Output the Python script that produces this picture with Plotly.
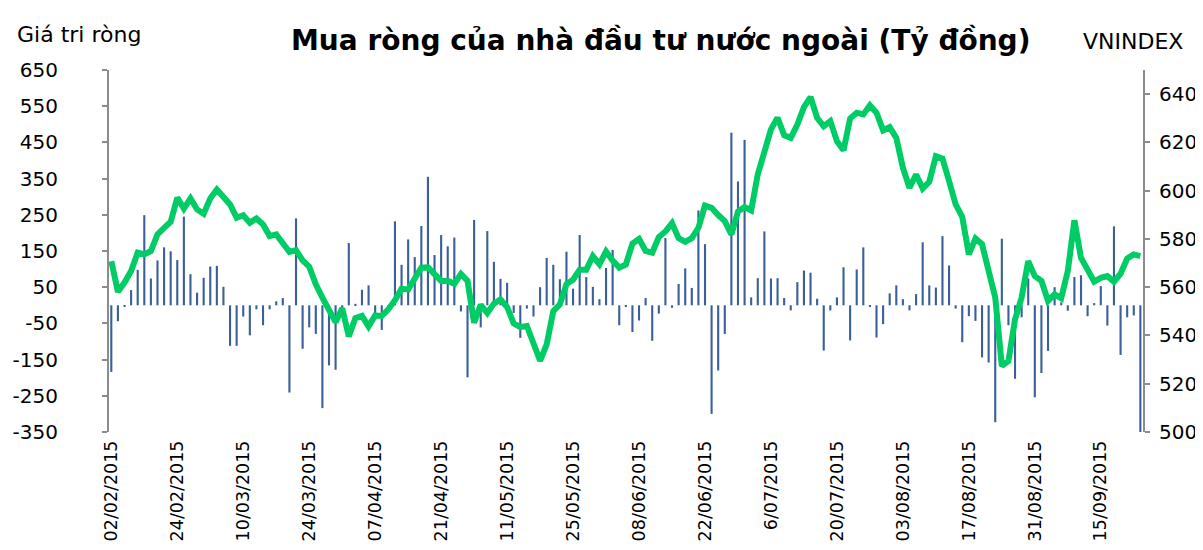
import pandas as pd
import plotly.graph_objects as go

# Net foreign buying (billion VND), one value per trading day
net_buy = [-184, -44, -4, 42, 98, 249, 74, 124, 160, 149,
           125, 245, 86, 35, 76, 107, 109, 51, -112, -112,
           -31, -83, -11, -55, -11, 11, 20, -241, 240, -120,
           -61, -79, -284, -166, -178, -20, 172, 4, 43, 55,
           -40, -68, -15, 232, 112, 182, 133, 219, 355, 139,
           194, 163, 187, -17, -199, 236, -61, 205, 120, 73,
           62, -21, -90, -9, -31, 50, 131, 112, 72, 148,
           46, 194, 78, 51, 17, 103, 153, -55, -2, -74,
           -42, 20, -98, -23, 186, -7, 59, 102, 48, 262,
           169, -300, -180, -79, 477, 342, 457, 22, 75, 204,
           74, 75, 20, -14, 64, 96, 90, 18, -125, -14,
           22, 105, -97, 99, 160, -3, -89, -52, 33, 55,
           17, -14, 31, 174, 55, 49, 191, 110, -9, -102,
           -30, -43, -144, -158, -323, 184, -55, -203, -33, 74,
           -254, -187, -126, 50, 8, -15, 78, 83, -30, 6,
           53, -56, 218, -137, -33, -28, -353]

# VNINDEX close
vnindex = [570.8, 558.1, 561.9, 566.7, 574.3, 573.6, 575.0, 581.9, 584.6, 587.1,
           597.1, 592.6, 596.8, 592.2, 590.4, 596.8, 600.5, 597.8, 594.3, 588.8,
           589.8, 586.7, 588.5, 586.0, 581.2, 581.9, 578.4, 574.6, 575.3, 571.1,
           568.5, 561.2, 555.7, 550.8, 545.5, 551.3, 539.6, 547.2, 548.1, 543.7,
           548.3, 548.1, 550.8, 554.6, 559.4, 559.0, 563.9, 568.1, 568.2, 565.0,
           562.6, 562.7, 561.4, 565.5, 562.6, 545.3, 552.7, 549.3, 553.2, 554.9,
           551.8, 545.0, 543.5, 543.9, 537.3, 529.5, 536.3, 550.1, 552.9, 561.3,
           563.1, 567.2, 567.2, 572.9, 569.5, 574.8, 571.0, 568.1, 569.4, 578.1,
           580.0, 575.0, 574.3, 580.8, 583.1, 586.5, 580.3, 578.8, 580.3, 584.6,
           593.8, 592.9, 589.9, 587.4, 581.9, 591.3, 593.2, 591.8, 606.7, 616.7,
           625.4, 630.2, 623.0, 621.9, 627.4, 634.6, 638.8, 630.2, 626.7, 628.8,
           620.5, 616.7, 629.9, 632.3, 631.6, 635.4, 632.3, 625.0, 626.3, 621.9,
           609.5, 601.2, 606.7, 600.9, 603.7, 614.3, 613.3, 604.0, 594.3, 589.1,
           573.6, 580.2, 577.8, 566.7, 555.7, 527.4, 529.4, 546.7, 555.7, 570.8,
           564.6, 562.6, 554.3, 557.1, 555.4, 566.7, 587.7, 572.2, 566.7, 562.3,
           563.9, 564.6, 562.3, 565.6, 571.9, 573.6, 572.9]

# Market holidays (Tet, Hung Kings / Reunion Day, National Day)
holidays = ["2015-02-16", "2015-02-17", "2015-02-18", "2015-02-19", "2015-02-20",
            "2015-02-23", "2015-04-28", "2015-04-29", "2015-04-30", "2015-05-01",
            "2015-09-02"]

tick_labels = ["02/02/2015", "24/02/2015", "10/03/2015", "24/03/2015", "07/04/2015",
               "21/04/2015", "11/05/2015", "25/05/2015", "08/06/2015", "22/06/2015",
               "6/07/2015", "20/07/2015", "03/08/2015", "17/08/2015", "31/08/2015",
               "15/09/2015"]

left_ticks = [-350, -250, -150, -50, 50, 150, 250, 350, 450, 550, 650]
right_ticks = [500, 520, 540, 560, 580, 600, 620, 640]

days = pd.bdate_range("2015-02-02", periods=len(net_buy), freq="C", holidays=holidays)
dates = list(days.strftime("%d/%m/%Y"))
tick_vals = dates[::10][:len(tick_labels)]

W, H = 1203, 550
L, R, T, B = 101, 1135, 62, 424


def px(x):
    return (x - L) / (R - L)


def py(y):
    return (B - y) / (B - T)


FONT = "DejaVu Sans"
BAR_COLOR = "#3A5F9B"
LINE_COLOR = "#00CC66"
AXIS_COLOR = "#8C8C8C"

fig = go.Figure()
fig.add_trace(go.Bar(x=dates, y=net_buy, marker_color=BAR_COLOR, width=0.32,
                     marker_line_width=0, name="Mua ròng", yaxis="y"))
fig.add_trace(go.Scatter(x=dates, y=vnindex, mode="lines", name="VNINDEX",
                         line=dict(color=LINE_COLOR, width=6), yaxis="y2"))

fig.update_layout(
    width=W, height=H,
    margin=dict(l=L, r=W - R, t=T, b=H - B, pad=0),
    paper_bgcolor="white", plot_bgcolor="white",
    showlegend=False,
    font=dict(family=FONT, color="black"),
    xaxis=dict(type="category", range=[-0.35, len(net_buy) - 0.6],
               tickmode="array", tickvals=tick_vals, ticktext=tick_labels,
               tickangle=-90, tickfont=dict(size=17.5, family=FONT),
               showgrid=False, showline=False, zeroline=False, ticks="",
               ticklabelstandoff=4, automargin=False),
    yaxis=dict(range=[-350, 650], tickmode="array", tickvals=left_ticks,
               ticktext=[str(v) for v in left_ticks],
               showgrid=False, zeroline=False, showline=True, linecolor=AXIS_COLOR,
               linewidth=2, ticks="outside", ticklen=5, tickcolor=AXIS_COLOR,
               tickwidth=2, tickfont=dict(size=20, family=FONT),
               ticklabelstandoff=40, automargin=False),
    yaxis2=dict(range=[500, 650], overlaying="y", side="right",
                tickmode="array", tickvals=right_ticks,
                ticktext=[str(v) for v in right_ticks],
                showgrid=False, zeroline=False, showline=True, linecolor=AXIS_COLOR,
                linewidth=2, ticks="outside", ticklen=5, tickcolor=AXIS_COLOR,
                tickwidth=2, tickfont=dict(size=20, family=FONT),
                ticklabelstandoff=5, automargin=False),
    annotations=[
        dict(text="Giá tri ròng", x=px(7), y=py(27), xref="paper", yref="paper",
             xanchor="left", yanchor="middle", showarrow=False,
             font=dict(size=22, family=FONT)),
        dict(text="<b>Mua ròng của nhà đầu tư nước ngoài (Tỷ đồng)</b>",
             x=px(652), y=py(32), xref="paper", yref="paper",
             xanchor="center", yanchor="middle", showarrow=False,
             font=dict(size=28, family=FONT)),
        dict(text="VNINDEX", x=px(1177), y=py(34), xref="paper", yref="paper",
             xanchor="right", yanchor="middle", showarrow=False,
             font=dict(size=22, family=FONT)),
    ],
)

fig.write_html("out.html")
